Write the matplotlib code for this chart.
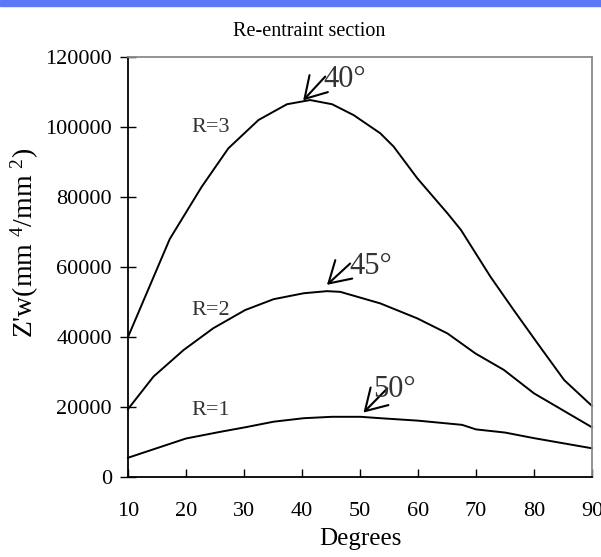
import matplotlib
matplotlib.use("Agg")
import matplotlib.pyplot as plt

# ---- data ----
deg_r1 = [10, 20, 25.9, 30.2, 35.1, 40.3, 45.2, 50.1, 53.5, 60, 67.6, 70, 75, 80, 90]
val_r1 = [5500, 11000, 12900, 14200, 15800, 16800, 17200, 17200, 16800, 16100, 14900, 13600, 12700, 11100, 8200]

deg_r2 = [10, 14.4, 19.6, 24.7, 30.2, 35.1, 40.3, 44.3, 46.6, 53.5, 59.9, 65.1, 69.9, 74.8, 80, 90]
val_r2 = [19400, 28700, 36300, 42500, 47700, 50800, 52500, 53100, 52900, 49600, 45300, 41000, 35300, 30600, 23900, 14200]

deg_r3 = [10, 17.2, 22.7, 27.3, 32.5, 37.4, 41.4, 45.2, 48.9, 53.5, 55.8, 59.9, 65.1, 67.4, 72.5, 76.5, 80.6, 85.2, 90]
val_r3 = [40000, 68000, 82900, 93900, 102000, 106500, 107700, 106500, 103400, 98200, 94400, 85300, 75300, 70600, 57200, 47700, 38200, 27700, 20300]

x_ticks = [10, 20, 30, 40, 50, 60, 70, 80, 90]
y_ticks = [0, 20000, 40000, 60000, 80000, 100000, 120000]

series_labels = ["R=1", "R=2", "R=3"]
label_pos = [(21.0, 18900), (21.0, 47700), (21.0, 100000)]
peak_labels = ["50°", "45°", "40°"]
peak_arrow_head = [(50.6, 18400), (44.3, 54900), (40.2, 107600)]
peak_arrow_tail = [(54.7, 25300), (48.3, 61000), (44.0, 114400)]
peak_text_pos = [(52.2, 25000), (48.1, 60000), (43.6, 113500)]

plt.rcParams["font.family"] = ["Liberation Serif", "DejaVu Serif"]
plt.rcParams["mathtext.fontset"] = "custom"
plt.rcParams["mathtext.rm"] = "Liberation Serif"
plt.rcParams["mathtext.default"] = "regular"

fig = plt.figure(figsize=(6.01, 5.57), dpi=100)
# blue strip at top
fig.patches.append(plt.Rectangle((0, 1 - 6 / 557), 1, 6 / 557, transform=fig.transFigure,
                                 color="#5b78f6", zorder=0))
ax = fig.add_axes([128 / 601, 1 - 477 / 557, (592 - 128) / 601, (477 - 57) / 557])

for d, v in [(deg_r1, val_r1), (deg_r2, val_r2), (deg_r3, val_r3)]:
    ax.plot(d, v, color="black", lw=1.4, solid_joinstyle="round", clip_on=False)

ax.set_xlim(10, 90)
ax.set_ylim(0, 120000)
ax.set_xticks(x_ticks)
ax.set_yticks(y_ticks)
ax.tick_params(axis="x", direction="in", length=6, width=1, pad=18, labelsize=16)
ax.tick_params(axis="y", direction="inout", length=11, width=1, pad=6, labelsize=16)

for s in ["left", "bottom"]:
    ax.spines[s].set_color("black")
    ax.spines[s].set_linewidth(1.3)
for s in ["top", "right"]:
    ax.spines[s].set_color("#8a8a8a")
    ax.spines[s].set_linewidth(1.3)

for lab, (x, y) in zip(series_labels, label_pos):
    ax.text(x, y, lab, fontsize=16, color="#333333", ha="left", va="center")

for lab, head, tail, tp in zip(peak_labels, peak_arrow_head, peak_arrow_tail, peak_text_pos):
    ax.annotate("", xy=head, xytext=tail,
                arrowprops=dict(arrowstyle="->,head_length=0.5,head_width=0.3", color="black", lw=1.5,
                                mutation_scale=30, shrinkA=0, shrinkB=0))
    ax.text(tp[0], tp[1], lab, fontsize=22, color="#333333", ha="left", va="center")

ax.set_xlabel("Degrees", fontsize=18, labelpad=5)
ax.set_ylabel("Z'w(mm $^{4}$/mm $^{2}$)", fontsize=20, labelpad=3)
ax.yaxis.label.set_y((477 - 243) / 420)
fig.text(309 / 601, 1 - 31 / 557, "Re-entraint section", fontsize=14.5, ha="center", va="center")

fig.savefig("out.png", dpi=100)
